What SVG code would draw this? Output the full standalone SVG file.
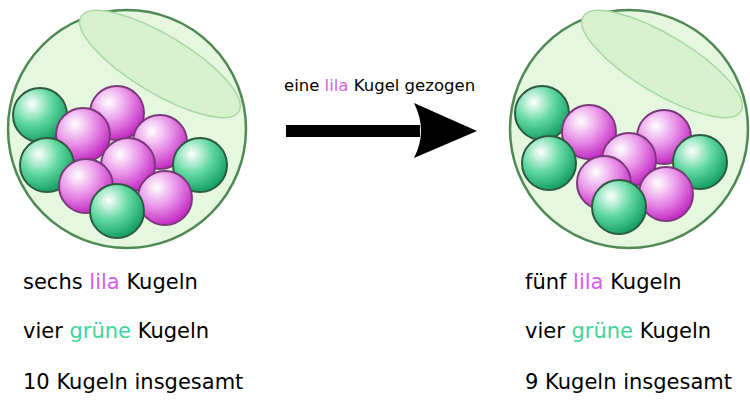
<svg xmlns="http://www.w3.org/2000/svg" width="750" height="407" viewBox="0 0 750 407">
<style>
.t{font-family:"DejaVu Sans",sans-serif;font-size:21px;fill:#000}
.s{font-family:"DejaVu Sans",sans-serif;font-size:16.5px;fill:#000}
.p{fill:#d35fe8}.g{fill:#3fd49a}
.bowl{fill:#e6f7e0;stroke:#4f8a55;stroke-width:2.5}
.lid{fill:#d8f2cf;stroke:#a8d8a0;stroke-width:1.5}
.gb{fill:url(#gg);stroke:#2d5a40;stroke-width:2}
.pb{fill:url(#pg);stroke:#7a3a7a;stroke-width:2}
</style>
<defs>
<radialGradient id="gg" cx="0.35" cy="0.3" r="0.75"><stop offset="0" stop-color="#ffffff"/><stop offset="0.5" stop-color="#5fd8a0"/><stop offset="1" stop-color="#0f9a60"/></radialGradient>
<radialGradient id="pg" cx="0.35" cy="0.3" r="0.75"><stop offset="0" stop-color="#ffffff"/><stop offset="0.5" stop-color="#e890e8"/><stop offset="1" stop-color="#c020c0"/></radialGradient>
<g id="bowlbase">
<circle class="bowl" cx="127" cy="129" r="119"/>
<ellipse class="lid" cx="160" cy="64" rx="92" ry="29" transform="rotate(31 160 64)"/>
</g>
</defs>
<g id="left-bowl">
<use href="#bowlbase"/>
<circle class="gb" cx="40" cy="115" r="27"/>
<circle class="pb" cx="117" cy="113" r="27"/>
<circle class="pb" cx="83" cy="135" r="27"/>
<circle class="pb" cx="160" cy="142" r="27"/>
<circle class="gb" cx="47" cy="165" r="27"/>
<circle class="pb" cx="128" cy="165" r="27"/>
<circle class="gb" cx="200" cy="165" r="27"/>
<circle class="pb" cx="86" cy="186" r="27"/>
<circle class="pb" cx="165" cy="198" r="27"/>
<circle class="gb" cx="117" cy="211" r="27"/>
</g>
<g id="right-bowl" transform="translate(502,0)">
<use href="#bowlbase"/>
<circle class="gb" cx="40" cy="113" r="27"/>
<circle class="pb" cx="87" cy="132" r="27"/>
<circle class="pb" cx="162" cy="137" r="27"/>
<circle class="gb" cx="47" cy="163" r="27"/>
<circle class="pb" cx="127" cy="160" r="27"/>
<circle class="gb" cx="198" cy="162" r="27"/>
<circle class="pb" cx="102" cy="183" r="27"/>
<circle class="pb" cx="164" cy="194" r="27"/>
<circle class="gb" cx="117" cy="207" r="27"/>
</g>
<g id="connectors">
<rect x="286" y="125" width="134" height="12" fill="#000"/>
<path d="M414 103 L477 131 L414 158 Q428 131 414 103 Z" fill="#000"/>
</g>
<text class="s" x="284" y="91">eine <tspan class="p">lila</tspan> Kugel gezogen</text>
<g id="left-text">
<text class="t" x="23" y="289">sechs <tspan class="p">lila</tspan> Kugeln</text>
<text class="t" x="23" y="338">vier <tspan class="g">grüne</tspan> Kugeln</text>
<text class="t" x="23" y="389">10 Kugeln insgesamt</text>
</g>
<g id="right-text">
<text class="t" x="525" y="289">fünf <tspan class="p">lila</tspan> Kugeln</text>
<text class="t" x="525" y="338">vier <tspan class="g">grüne</tspan> Kugeln</text>
<text class="t" x="525" y="389">9 Kugeln insgesamt</text>
</g>
</svg>
